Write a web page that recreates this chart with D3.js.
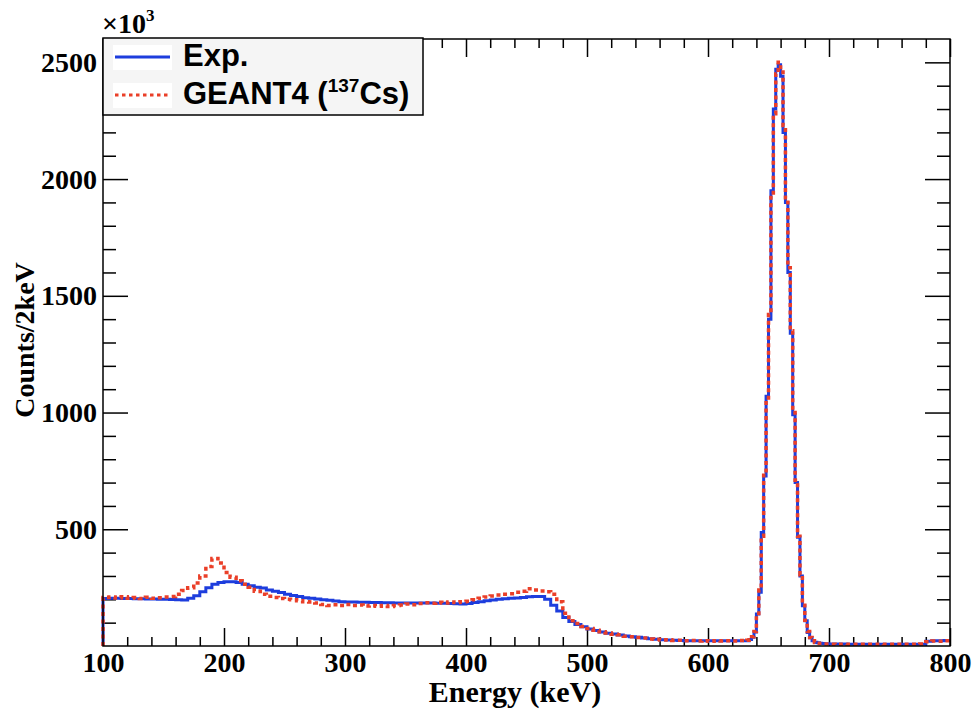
<!DOCTYPE html>
<html lang="en">
<head>
  <meta charset="UTF-8" />
  <title>137Cs spectrum: Exp. vs GEANT4</title>
  <style>
    body { margin: 0; background: #fff; }
    svg { display: block; }
  </style>
</head>
<body>
  <svg id="chart" width="972" height="713"></svg>

  <script src="https://d3js.org/d3.v7.min.js"></script>
  <script>
    // counts per 2 keV in units of 10^3
    // continuum 100-630 keV (5 keV steps), photopeak 630-700 keV (2 keV steps), tail 700-800 keV (5 keV steps)
    const expCont = [
      203,205,204,203,203,202,202,201,201,200,
      200,199,198,197,205,215,232,250,264,272,
      275,275,272,265,258,252,248,240,235,229,
      222,216,212,207,204,201,198,196,193,190,
      189,188,187,187,186,186,185,185,184,184,
      184,184,184,184,184,183,183,182,181,180,
      182,186,190,194,197,200,202,204,206,208,
      211,212,212,200,175,150,122,105,92,82,
      73,66,60,55,51,47,43,40,37,34,
      31,29,27,26,25,24,23,23,23,23,
      23,23,23,23,23,23
    ];
    const expPeak = [
      23,23,28,38,60,137,230,486,728,1070,
      1400,1950,2300,2470,2490,2440,2200,1900,1600,1340,
      990,700,466,300,172,108,58,35,22,16,
      14,12,11,10,10
    ];
    const expTail = [9,9,9,8,8,8,8,8,8,8,8,8,8,8,8,8,20,22,23,24];

    const g4Cont = [
      208,210,206,211,205,208,203,209,204,207,
      210,212,222,238,250,270,300,340,375,355,
      315,295,280,265,252,235,222,213,208,203,
      200,198,194,190,188,184,178,174,177,173,
      178,174,176,171,174,170,173,169,174,176,
      180,177,182,185,183,187,184,189,186,190,
      192,198,205,210,214,218,222,224,230,235,
      245,240,236,232,222,190,140,108,96,84,
      75,68,61,56,50,48,42,40,36,34,
      30,29,26,27,24,25,22,24,21,23,
      20,22,21,23,21,24
    ];
    const g4Peak = [
      22,25,27,40,62,130,240,470,740,1050,
      1420,1930,2280,2450,2500,2470,2230,1920,1620,1350,
      1000,710,470,305,175,110,62,36,22,15,
      12,11,10,9,9
    ];
    const g4Tail = [8,7,8,7,7,8,7,7,8,7,7,8,7,7,8,9,18,21,20,23];

    const xMajor = [100, 200, 300, 400, 500, 600, 700, 800];
    const yMajor = [500, 1000, 1500, 2000, 2500];

    // bin low edges
    const binLo = [
      ...d3.range(100, 630, 5),
      ...d3.range(630, 700, 2),
      ...d3.range(700, 800, 5)
    ];

    const x = d3.scaleLinear().domain([100, 800]).range([103, 950]);
    const y = d3.scaleLinear().domain([0, 2600]).range([646, 39]);

    const svg = d3.select("#chart");
    const serif = "'Liberation Serif', 'Times New Roman', serif";
    const sans = "'Liberation Sans', Arial, sans-serif";

    function histPoints(vals) {
      const pts = [[100, 0]];
      vals.forEach((v, i) => pts.push([binLo[i], v]));
      pts.push([800, vals[vals.length - 1]]);
      return pts;
    }
    const line = d3.line().x(d => x(d[0])).y(d => y(d[1])).curve(d3.curveStepAfter);

    // axes, ROOT style: ticks inward on all four sides
    function styleAxis(g) {
      g.select(".domain").remove();
      g.selectAll(".tick line").attr("stroke", "#000").attr("stroke-width", 1.5);
      g.selectAll("text").attr("font-family", serif).attr("font-weight", "bold")
        .attr("font-size", 28).attr("fill", "#000");
    }
    const xMinor = d3.range(100, 801, 20).filter(v => v % 100 !== 0);
    const yMinor = d3.range(100, 2600, 100).filter(v => v % 500 !== 0);

    svg.append("g").attr("transform", "translate(0,646)")
      .call(d3.axisBottom(x).tickValues(xMajor).tickSize(-18).tickPadding(6).tickFormat(d3.format("d")))
      .call(styleAxis);
    svg.append("g").attr("transform", "translate(0,646)")
      .call(d3.axisBottom(x).tickValues(xMinor).tickSize(-9).tickFormat(""))
      .call(styleAxis);
    svg.append("g").attr("transform", "translate(0,39)")
      .call(d3.axisTop(x).tickValues(xMajor).tickSize(-18).tickFormat(""))
      .call(styleAxis);
    svg.append("g").attr("transform", "translate(0,39)")
      .call(d3.axisTop(x).tickValues(xMinor).tickSize(-9).tickFormat(""))
      .call(styleAxis);

    svg.append("g").attr("transform", "translate(103,0)")
      .call(d3.axisLeft(y).tickValues(yMajor).tickSize(-25).tickPadding(6).tickFormat(d3.format("d")))
      .call(styleAxis);
    svg.append("g").attr("transform", "translate(103,0)")
      .call(d3.axisLeft(y).tickValues(yMinor).tickSize(-13).tickFormat(""))
      .call(styleAxis);
    svg.append("g").attr("transform", "translate(950,0)")
      .call(d3.axisRight(y).tickValues(yMajor).tickSize(-25).tickFormat(""))
      .call(styleAxis);
    svg.append("g").attr("transform", "translate(950,0)")
      .call(d3.axisRight(y).tickValues(yMinor).tickSize(-13).tickFormat(""))
      .call(styleAxis);

    // histograms
    svg.append("path")
      .datum(histPoints([...expCont, ...expPeak, ...expTail]))
      .attr("fill", "none")
      .attr("stroke", "#1d3ddd")
      .attr("stroke-width", 3)
      .attr("d", line);

    svg.append("path")
      .datum(histPoints([...g4Cont, ...g4Peak, ...g4Tail]))
      .attr("fill", "none")
      .attr("stroke", "#ea3f28")
      .attr("stroke-width", 3.5)
      .attr("stroke-dasharray", "4,3.5")
      .attr("d", line);

    // frame
    svg.append("rect")
      .attr("x", 103).attr("y", 39)
      .attr("width", 847).attr("height", 607)
      .attr("fill", "none").attr("stroke", "#000").attr("stroke-width", 1.5);

    // axis titles
    svg.append("text")
      .attr("x", 515).attr("y", 702)
      .attr("text-anchor", "middle")
      .attr("font-family", serif).attr("font-weight", "bold").attr("font-size", 30)
      .text("Energy (keV)");

    svg.append("text")
      .attr("transform", "translate(34,340) rotate(-90)")
      .attr("text-anchor", "middle")
      .attr("font-family", serif).attr("font-weight", "bold").attr("font-size", 28)
      .text("Counts/2keV");

    const mult = svg.append("text")
      .attr("x", 102).attr("y", 33)
      .attr("font-family", serif).attr("font-weight", "bold").attr("font-size", 28);
    mult.append("tspan").text("×10");
    mult.append("tspan").attr("dy", -12).attr("font-size", 17).text("3");

    // legend
    const leg = svg.append("g");
    leg.append("rect")
      .attr("x", 103).attr("y", 38).attr("width", 320).attr("height", 77)
      .attr("fill", "#f5f5f5").attr("stroke", "#000").attr("stroke-width", 1.5);
    leg.append("rect").attr("x", 113).attr("y", 45).attr("width", 59).attr("height", 25).attr("fill", "#fff");
    leg.append("rect").attr("x", 113).attr("y", 83).attr("width", 59).attr("height", 25).attr("fill", "#fff");
    leg.append("line")
      .attr("x1", 115).attr("x2", 170).attr("y1", 57).attr("y2", 57)
      .attr("stroke", "#1d3ddd").attr("stroke-width", 3);
    leg.append("line")
      .attr("x1", 115).attr("x2", 169).attr("y1", 95).attr("y2", 95)
      .attr("stroke", "#ea3f28").attr("stroke-width", 3).attr("stroke-dasharray", "3.5,3.5");
    leg.append("text")
      .attr("x", 183).attr("y", 66)
      .attr("font-family", sans).attr("font-weight", "bold").attr("font-size", 31)
      .text("Exp.");
    const g4Label = leg.append("text")
      .attr("x", 183).attr("y", 104)
      .attr("font-family", sans).attr("font-weight", "bold").attr("font-size", 31);
    g4Label.append("tspan").text("GEANT4 (");
    g4Label.append("tspan").attr("dy", -12).attr("font-size", 19).text("137");
    g4Label.append("tspan").attr("dy", 12).text("Cs)");
  </script>
</body>
</html>
